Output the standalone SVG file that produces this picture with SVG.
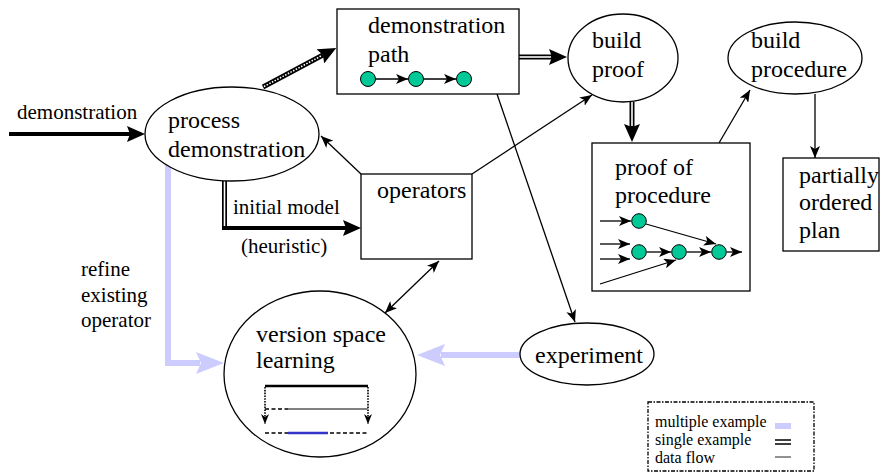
<svg xmlns="http://www.w3.org/2000/svg" width="880" height="472" viewBox="0 0 880 472">
<defs>
<style>
.n{fill:#fff;stroke:#000;stroke-width:1.3}
text{font-family:'Liberation Serif','Times New Roman',serif;fill:#000}
.t{font-size:24px}
.l{font-size:21px}
.g{font-size:16px}
.thin{fill:none;stroke:#000;stroke-width:1.3}
.thick{fill:none;stroke:#000;stroke-width:4}
.lav{fill:none;stroke:#ccccff;stroke-width:6}
.dblb{fill:none;stroke:#000;stroke-width:5}
.dblw{fill:none;stroke:#fff;stroke-width:1.6}
.dot{fill:#00c896;stroke:#000;stroke-width:1}
</style>
<marker id="ah" markerUnits="userSpaceOnUse" markerWidth="12" markerHeight="10" viewBox="0 0 12 10" refX="12" refY="5" orient="auto-start-reverse"><path d="M0,0 L12,5 L0,10 L3,5 z" fill="#000"/></marker>
<marker id="sm" markerUnits="userSpaceOnUse" markerWidth="10" markerHeight="8" viewBox="0 0 10 8" refX="10" refY="4" orient="auto"><path d="M0,0 L10,4 L0,8 L3,4 z" fill="#000"/></marker>
<marker id="big" markerUnits="userSpaceOnUse" markerWidth="18" markerHeight="16" viewBox="0 0 18 16" refX="3" refY="8" orient="auto"><path d="M0,0 L18,8 L0,16 L3,8 z" fill="#000"/></marker>
<marker id="lv" markerUnits="userSpaceOnUse" markerWidth="28" markerHeight="22" viewBox="0 0 28 22" refX="4" refY="11" orient="auto"><path d="M0,0 L28,11 L0,22 L5,11 z" fill="#ccccff"/></marker>
</defs>

<g id="connectors">
<path class="thick" d="M9,134 L130,134" marker-end="url(#big)"/>
<path class="dblb" d="M263,87 L323,55" marker-end="url(#big)"/>
<path d="M264,86.5 L321,56" fill="none" stroke="#fff" stroke-width="1.6" stroke-dasharray="1.5,1.5"/>
<path class="dblb" d="M519,57 L552,57" marker-end="url(#big)"/>
<path class="dblw" d="M519,57 L551,57"/>
<path class="dblb" d="M632,102 L632,127" marker-end="url(#big)"/>
<path class="dblw" d="M632,102 L632,126"/>
<path class="dblb" d="M224.5,179 L224.5,230"/>
<path class="dblw" d="M224.5,179 L224.5,226"/>
<path class="thick" d="M222.5,228 L346,228" marker-end="url(#big)"/>
<path class="thin" d="M361,174 L321,136" marker-end="url(#ah)"/>
<path class="thin" d="M472,174 L592,95" marker-end="url(#ah)"/>
<path class="thin" d="M497,94 L575,322" marker-end="url(#ah)"/>
<path class="thin" d="M719,143 L750,90" marker-end="url(#ah)"/>
<path class="thin" d="M815,94 L815,158" marker-end="url(#ah)"/>
<path class="thin" d="M439,261 L385,313" marker-start="url(#ah)" marker-end="url(#ah)"/>
<path class="lav" d="M520,355 L441,355" marker-end="url(#lv)"/>
<path class="lav" d="M168,165 L168,363 L200,363" marker-end="url(#lv)"/>
</g>

<g id="process-demonstration">
<ellipse class="n" cx="232" cy="134" rx="87" ry="47"/>
<text class="t" x="168" y="128">process</text>
<text class="t" x="168" y="157">demonstration</text>
</g>

<g id="demonstration-path">
<rect class="n" x="337" y="9" width="182" height="85"/>
<text class="t" x="368" y="33">demonstration</text>
<text class="t" x="368" y="62">path</text>
<path class="thin" d="M375,79 L408,79" marker-end="url(#ah)"/>
<path class="thin" d="M423,79 L456,79" marker-end="url(#ah)"/>
<circle class="dot" cx="368" cy="79" r="7.5"/>
<circle class="dot" cx="416" cy="79" r="7.5"/>
<circle class="dot" cx="464" cy="79" r="7.5"/>
</g>

<g id="build-proof">
<ellipse class="n" cx="623" cy="58" rx="55" ry="44"/>
<text class="t" x="592" y="48">build</text>
<text class="t" x="592" y="77">proof</text>
</g>

<g id="build-procedure">
<ellipse class="n" cx="795" cy="58" rx="67" ry="36"/>
<text class="t" x="751" y="48">build</text>
<text class="t" x="751" y="77">procedure</text>
</g>

<g id="proof-of-procedure">
<rect class="n" x="592" y="143" width="158" height="148"/>
<text class="t" x="615" y="175">proof of</text>
<text class="t" x="615" y="203">procedure</text>
<path class="thin" d="M600,221 L631,221" marker-end="url(#ah)"/>
<path class="thin" d="M600,244 L630,244" marker-end="url(#ah)"/>
<path class="thin" d="M600,259 L630,259" marker-end="url(#ah)"/>
<path class="thin" d="M600,284 L676,260" marker-end="url(#ah)"/>
<path class="thin" d="M646,224 L716,244" marker-end="url(#ah)"/>
<path class="thin" d="M647,252 L671,252" marker-end="url(#ah)"/>
<path class="thin" d="M687,252 L711,252" marker-end="url(#ah)"/>
<path class="thin" d="M727,252 L742,252" marker-end="url(#ah)"/>
<circle class="dot" cx="639" cy="221" r="7.3"/>
<circle class="dot" cx="639" cy="252" r="7.3"/>
<circle class="dot" cx="679" cy="252" r="7.3"/>
<circle class="dot" cx="719" cy="252" r="7.3"/>
</g>

<g id="partially-ordered-plan">
<rect class="n" x="783" y="158" width="96" height="93"/>
<text class="t" x="799" y="183">partially</text>
<text class="t" x="799" y="210">ordered</text>
<text class="t" x="799" y="238">plan</text>
</g>

<g id="operators">
<rect class="n" x="361" y="174" width="111" height="85"/>
<text class="t" x="377" y="198">operators</text>
</g>

<g id="version-space-learning">
<ellipse class="n" cx="320" cy="374" rx="96" ry="83"/>
<text class="t" x="256" y="342">version space</text>
<text class="t" x="256" y="368">learning</text>
<path d="M265,386 L368,386" fill="none" stroke="#000" stroke-width="2.4"/>
<path d="M265,387 L265,424" fill="none" stroke="#000" stroke-width="1.6" stroke-dasharray="1.6,1.2" marker-end="url(#sm)"/>
<path d="M368,387 L368,424" fill="none" stroke="#000" stroke-width="1.6" stroke-dasharray="1.6,1.2" marker-end="url(#sm)"/>
<path d="M265,409 L288,409 M265,433 L368,433" fill="none" stroke="#000" stroke-width="1.6" stroke-dasharray="4,2.5"/>
<path d="M288,409 L368,409" fill="none" stroke="#808080" stroke-width="2.2"/>
<path d="M288,433 L328,433" fill="none" stroke="#3333cc" stroke-width="2.4"/>
</g>

<g id="experiment">
<ellipse class="n" cx="587" cy="354" rx="67" ry="31"/>
<text class="t" x="535" y="363">experiment</text>
</g>

<g id="labels">
<text class="l" x="17" y="119">demonstration</text>
<text class="l" x="233" y="214">initial model</text>
<text class="l" x="241" y="253">(heuristic)</text>
<text class="l" x="81" y="276">refine</text>
<text class="l" x="81" y="301.5">existing</text>
<text class="l" x="81" y="327">operator</text>
</g>

<g id="legend">
<rect x="648" y="402" width="166" height="69" fill="#fff" stroke="#000" stroke-width="1.3" stroke-dasharray="4,1.5,1.5,1.5"/>
<text class="g" x="655" y="427">multiple example</text>
<text class="g" x="655" y="445">single example</text>
<text class="g" x="655" y="463">data flow</text>
<rect x="775" y="423" width="16" height="6" fill="#ccccff"/>
<path d="M775,440 L791,440 M775,444 L791,444" stroke="#000" stroke-width="1.6"/>
<path d="M775,457 L791,457" stroke="#555" stroke-width="1.3"/>
</g>
</svg>
